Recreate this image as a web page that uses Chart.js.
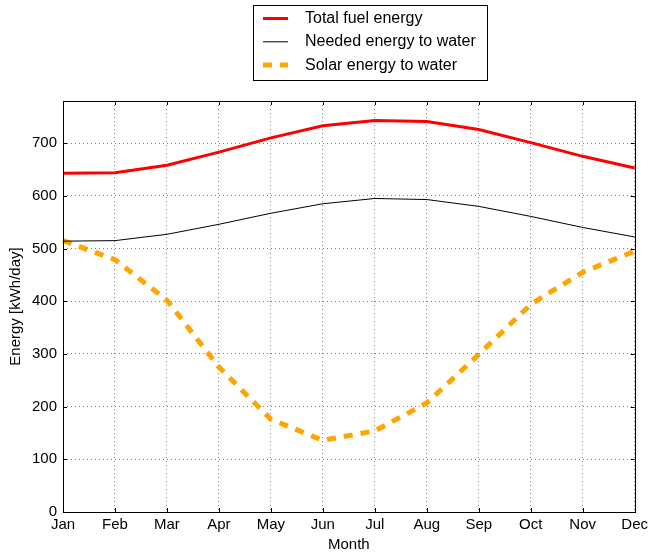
<!DOCTYPE html>
<html>
<head>
<meta charset="utf-8">
<script src="https://cdn.jsdelivr.net/npm/chart.js@4.4.1/dist/chart.umd.min.js"></script>
<style>
  body { margin: 0; background: #fff; }
  #wrap { width: 652px; height: 554px; }
</style>
</head>
<body>
<div id="wrap"><canvas id="energyChart" width="652" height="554"></canvas></div>
<script>
const months = ['Jan', 'Feb', 'Mar', 'Apr', 'May', 'Jun', 'Jul', 'Aug', 'Sep', 'Oct', 'Nov', 'Dec'];
const totalFuel = [643, 644, 658, 683, 710, 733, 743, 741, 726, 701, 675, 653];
const neededWater = [514, 515, 527, 546, 567, 585, 595, 593, 580, 561, 540, 522];
const solarWater = [515, 479, 402, 275, 176, 136, 154, 207, 299, 394, 455, 495];
const yTicks = [0, 100, 200, 300, 400, 500, 600, 700];

const FONT = 'Liberation Sans, Arial, sans-serif';

// frame, inward tick marks and the boxed legend
const framePlugin = {
    id: 'frame',
    afterDraw(chart) {
        const ctx = chart.ctx;
        const a = chart.chartArea;
        const xs = chart.scales.x;
        const ys = chart.scales.y;
        ctx.save();
        ctx.strokeStyle = '#000';
        ctx.lineWidth = 1;
        ctx.beginPath();
        xs.ticks.forEach((t, i) => {
            const x = Math.round(xs.getPixelForTick(i)) + 0.5;
            ctx.moveTo(x, a.bottom); ctx.lineTo(x, a.bottom - 4);
            ctx.moveTo(x, a.top); ctx.lineTo(x, a.top + 4);
        });
        ys.ticks.forEach(t => {
            const y = Math.round(ys.getPixelForValue(t.value)) + 0.5;
            ctx.moveTo(a.left, y); ctx.lineTo(a.left + 4, y);
            ctx.moveTo(a.right, y); ctx.lineTo(a.right - 4, y);
        });
        ctx.stroke();
        ctx.strokeRect(Math.round(a.left) + 0.5, Math.round(a.top) + 0.5,
            Math.round(a.right - a.left), Math.round(a.bottom - a.top));

        // legend
        const bx = 253.5, by = 5.5, bw = 234, bh = 75;
        ctx.fillStyle = '#fff';
        ctx.fillRect(bx, by, bw, bh);
        ctx.strokeRect(bx, by, bw, bh);
        ctx.font = '16px ' + FONT;
        ctx.textBaseline = 'middle';
        ctx.textAlign = 'left';
        chart.data.datasets.forEach((ds, i) => {
            const y = 18.5 + i * 23.3;
            ctx.beginPath();
            ctx.strokeStyle = ds.borderColor;
            ctx.lineWidth = ds.borderWidth;
            ctx.setLineDash(ds.borderDash || []);
            ctx.moveTo(263, y);
            ctx.lineTo(288, y);
            ctx.stroke();
            ctx.setLineDash([]);
            ctx.fillStyle = '#000';
            ctx.fillText(ds.label, 305, y);
        });
        ctx.restore();
    }
};

const ctx = document.getElementById('energyChart').getContext('2d');
new Chart(ctx, {
    type: 'line',
    data: {
        labels: months,
        datasets: [
            {
                label: 'Total fuel energy',
                data: totalFuel,
                borderColor: '#ff0000',
                borderWidth: 3,
                pointRadius: 0,
                tension: 0,
                fill: false
            },
            {
                label: 'Needed energy to water',
                data: neededWater,
                borderColor: '#000000',
                borderWidth: 1,
                pointRadius: 0,
                tension: 0,
                fill: false
            },
            {
                label: 'Solar energy to water',
                data: solarWater,
                borderColor: '#ffa500',
                borderWidth: 5,
                borderDash: [9, 8],
                pointRadius: 0,
                tension: 0,
                fill: false
            }
        ]
    },
    options: {
        responsive: false,
        animation: false,
        devicePixelRatio: 1,
        layout: { padding: { top: 101, right: 16, left: 0, bottom: 0 } },
        plugins: {
            legend: { display: false },
            tooltip: { enabled: false }
        },
        scales: {
            x: {
                type: 'category',
                offset: false,
                grid: {
                    offset: false,
                    color: 'rgba(0,0,0,0.5)',
                    drawTicks: false,
                    tickLength: 0
                },
                border: { display: false, dash: [1, 3] },
                ticks: {
                    color: '#000',
                    font: { family: FONT, size: 15 },
                    padding: 4,
                    maxRotation: 0,
                    autoSkip: false
                },
                title: {
                    display: true,
                    text: 'Month',
                    color: '#000',
                    font: { family: FONT, size: 15 },
                    padding: 0
                },
                afterFit: s => { s.height = 42; }
            },
            y: {
                min: 0,
                max: 780,
                grid: {
                    color: 'rgba(0,0,0,0.5)',
                    drawTicks: false,
                    tickLength: 0
                },
                border: { display: false, dash: [1, 3] },
                ticks: {
                    stepSize: 100,
                    color: '#000',
                    font: { family: FONT, size: 15 },
                    padding: 6
                },
                afterBuildTicks: s => { s.ticks = yTicks.map(v => ({ value: v })); },
                title: {
                    display: true,
                    text: 'Energy [kWh/day]',
                    color: '#000',
                    font: { family: FONT, size: 15 },
                    padding: { top: 7, bottom: 0 }
                },
                afterFit: s => { s.width = 63; }
            }
        }
    },
    plugins: [framePlugin]
});
</script>
</body>
</html>
